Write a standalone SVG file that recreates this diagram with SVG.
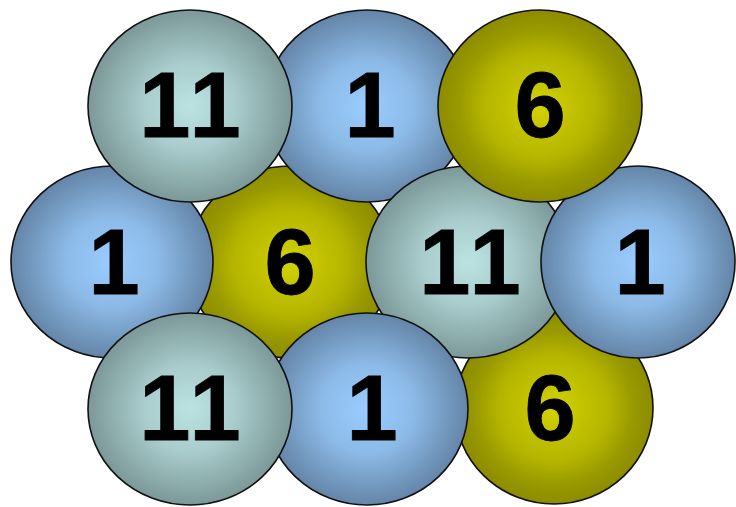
<svg xmlns="http://www.w3.org/2000/svg" width="736" height="507" viewBox="0 0 736 507">
<defs>
<radialGradient id="gBlue" cx="50%" cy="50%" r="50%">
<stop offset="0" stop-color="#99CCFF"/>
<stop offset="0.45" stop-color="#8DBBE8"/>
<stop offset="1" stop-color="#6485A8"/>
</radialGradient>
<radialGradient id="gGray" cx="50%" cy="50%" r="50%">
<stop offset="0" stop-color="#BBE2E2"/>
<stop offset="0.45" stop-color="#A9CCCC"/>
<stop offset="1" stop-color="#7C9898"/>
</radialGradient>
<radialGradient id="gYellow" cx="50%" cy="50%" r="50%">
<stop offset="0" stop-color="#D2D200"/>
<stop offset="0.55" stop-color="#B5B500"/>
<stop offset="0.8" stop-color="#999900"/>
<stop offset="1" stop-color="#8C8C00"/>
</radialGradient>
</defs>
<style>
ellipse{stroke:#111;stroke-width:1.6}
.b{fill:url(#gBlue)}
.g{fill:url(#gGray)}
.y{fill:url(#gYellow)}
text{font-family:"Liberation Sans",Arial,sans-serif;font-weight:bold;font-size:92px;fill:#000;stroke:#000;stroke-width:0.8;text-anchor:middle}
.w{letter-spacing:4px}
</style>
<rect width="736" height="507" fill="#fff"/>
<g id="connectors"/>
<g id="n-r3-6"><ellipse class="y" cx="554" cy="408" rx="99" ry="96"/><text x="550" y="440">6</text></g>
<g id="n-r2-6"><ellipse class="y" cx="290" cy="262" rx="102" ry="96"/><text x="290" y="294">6</text></g>
<g id="n-r1-1"><ellipse class="b" cx="367" cy="106" rx="102" ry="96"/><text x="370" y="137">1</text></g>
<g id="n-r2-11"><ellipse class="g" cx="468" cy="262" rx="102" ry="96"/><text class="w" x="472" y="294">11</text></g>
<g id="n-r2-1b"><ellipse class="b" cx="638" cy="262" rx="97" ry="96"/><text x="640" y="294">1</text></g>
<g id="n-r2-1a"><ellipse class="b" cx="112" cy="262" rx="101" ry="96"/><text x="114" y="294">1</text></g>
<g id="n-r1-11"><ellipse class="g" cx="190" cy="106" rx="102" ry="96"/><text class="w" x="192" y="137">11</text></g>
<g id="n-r1-6"><ellipse class="y" cx="540" cy="106" rx="102" ry="96"/><text x="540" y="137">6</text></g>
<g id="n-r3-1"><ellipse class="b" cx="367" cy="409" rx="101" ry="96"/><text x="372" y="440">1</text></g>
<g id="n-r3-11"><ellipse class="g" cx="190" cy="409" rx="102" ry="96"/><text class="w" x="192" y="440">11</text></g>
</svg>
